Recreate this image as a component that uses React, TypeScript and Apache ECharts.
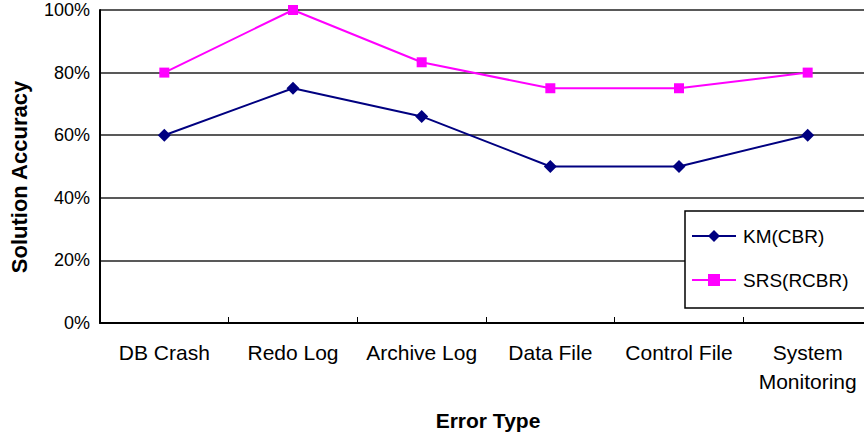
import React, { useEffect, useRef } from "react";
import * as echarts from "echarts";

const categories = ["DB Crash", "Redo Log", "Archive Log", "Data File", "Control File", "System\nMonitoring"];
const kmValues = [60, 75, 66, 50, 50, 60];
const srsValues = [80, 100, 83.3, 75, 75, 80];
const yTicks = [0, 20, 40, 60, 80, 100];

const FONT = "'Liberation Sans', Arial, sans-serif";

export default function App() {
  const ref = useRef<HTMLDivElement>(null);
  useEffect(() => {
    if (!ref.current) return;
    const chart = echarts.init(ref.current, undefined, { renderer: "svg" });
    chart.setOption({
      animation: false,
      backgroundColor: "#ffffff",
      textStyle: { fontFamily: FONT },
      grid: { left: 100, top: 10, width: 772, height: 313, containLabel: false },
      xAxis: {
        type: "category",
        data: categories,
        boundaryGap: true,
        axisLine: { lineStyle: { color: "#000", width: 2 } },
        axisTick: { show: true, inside: true, length: 6, lineStyle: { color: "#000", width: 1 } },
        axisLabel: { color: "#000", fontSize: 21, fontFamily: FONT, margin: 15, lineHeight: 29, interval: 0 },
        splitLine: { show: false },
      },
      yAxis: {
        type: "value",
        min: yTicks[0],
        max: yTicks[yTicks.length - 1],
        interval: 20,
        axisLine: { show: true, lineStyle: { color: "#000", width: 2 } },
        axisTick: { show: false },
        axisLabel: { color: "#000", fontSize: 18, fontFamily: FONT, margin: 10, formatter: "{value}%" },
        splitLine: { show: true, lineStyle: { color: "#222", width: 1.5 } },
      },
      legend: {
        orient: "vertical",
        left: 685,
        top: 211,
        padding: [15, 40, 18, 6],
        itemWidth: 44,
        itemHeight: 15,
        itemGap: 24,
        backgroundColor: "#fff",
        borderColor: "#000",
        borderWidth: 1.5,
        textStyle: { color: "#000", fontSize: 19, fontFamily: FONT, lineHeight: 20, padding: [0, 0, 0, 2] },
        data: ["KM(CBR)", "SRS(RCBR)"],
      },
      graphic: [
        {
          type: "text",
          x: 488,
          y: 420,
          style: {
            text: "Error Type",
            font: `bold 21px ${FONT}`,
            fill: "#000",
            textAlign: "center",
            textVerticalAlign: "middle",
          },
        },
        {
          type: "text",
          x: 19,
          y: 177,
          rotation: Math.PI / 2,
          style: {
            text: "Solution Accuracy",
            font: `bold 22px ${FONT}`,
            fill: "#000",
            textAlign: "center",
            textVerticalAlign: "middle",
          },
        },
      ],
      series: [
        {
          name: "KM(CBR)",
          type: "line",
          data: kmValues,
          symbol: "diamond",
          symbolSize: 13,
          itemStyle: { color: "#000080" },
          lineStyle: { color: "#000080", width: 2 },
        },
        {
          name: "SRS(RCBR)",
          type: "line",
          data: srsValues,
          symbol: "rect",
          symbolSize: 10,
          itemStyle: { color: "#FF00FF" },
          lineStyle: { color: "#FF00FF", width: 2 },
        },
      ],
    });
    return () => chart.dispose();
  }, []);
  return (
    <div style={{ position: "fixed", left: 0, top: 0, width: 864, height: 433, overflow: "hidden" }}>
      <div ref={ref} style={{ position: "absolute", left: 0, top: 0, width: 880, height: 433 }} />
    </div>
  );
}
